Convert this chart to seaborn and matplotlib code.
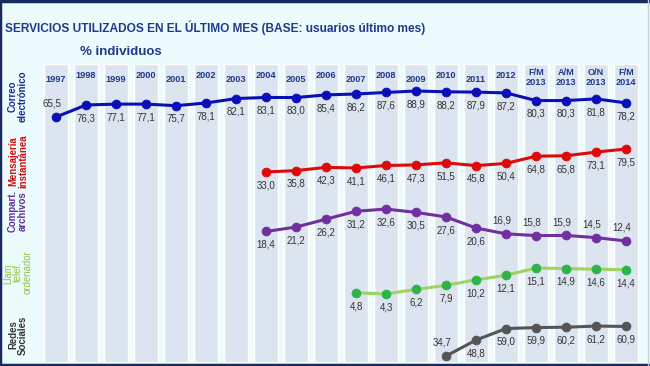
import matplotlib
matplotlib.use("Agg")
import matplotlib.pyplot as plt
import seaborn as sns
from matplotlib.lines import Line2D

# periods (column headers)
periods = ["1997", "1998", "1999", "2000", "2001", "2002", "2003", "2004",
           "2005", "2006", "2007", "2008", "2009", "2010", "2011", "2012",
           "F/M\n2013", "A/M\n2013", "O/N\n2013", "F/M\n2014"]

# % individuos per service, starting at the first period where it was asked
correo = [65.5, 76.3, 77.1, 77.1, 75.7, 78.1, 82.1, 83.1, 83.0, 85.4,
          86.2, 87.6, 88.9, 88.2, 87.9, 87.2, 80.3, 80.3, 81.8, 78.2]
mensajeria = [33.0, 35.8, 42.3, 41.1, 46.1, 47.3, 51.5, 45.8, 50.4,
              64.8, 65.8, 73.1, 79.5]
compartir = [18.4, 21.2, 26.2, 31.2, 32.6, 30.5, 27.6, 20.6, 16.9,
             15.8, 15.9, 14.5, 12.4]
llamadas = [4.8, 4.3, 6.2, 7.9, 10.2, 12.1, 15.1, 14.9, 14.6, 14.4]
redes = [34.7, 48.8, 59.0, 59.9, 60.2, 61.2, 60.9]

row_labels = ["Correo\nelectrónico", "Mensajería\ninstantánea",
              "Compart.\narchivos", "Llam.\ntelef.\nordenador",
              "Redes\nSociales"]
start_period = ["1997", "2004", "2004", "2007", "2010"]

BG = "#ecfbfc"
COLUMN = "#dce4ef"
NAVY = "#1f3a8c"

sns.set_style("white")
plt.rcParams["font.family"] = ["Liberation Sans", "DejaVu Sans"]

W, H = 650, 366
fig = plt.figure(figsize=(6.5, 3.66), dpi=100, facecolor=BG)


def px_axes(top, bottom):
    ax = fig.add_axes([41 / W, 1 - bottom / H, 600 / W, (bottom - top) / H])
    ax.set_xlim(-0.5, len(periods) - 0.5)
    ax.patch.set_alpha(0)
    ax.axis("off")
    return ax


# grey columns with the period headers
bg = px_axes(64, 362)
bg.bar(range(len(periods)), 1, width=0.8, color=COLUMN, zorder=0)
bg.set_ylim(0, 1)
for i, p in enumerate(periods):
    dy = 0.0 if "\n" in p else (0.006 if i % 2 else -0.006)
    bg.text(i, 0.955 + dy, p, ha="center", va="center", fontsize=6.6,
            fontweight="bold", color=NAVY, linespacing=1.05)

# one band per service:
# (values, line, marker, label colour, top px, bottom px, ylim, labels above, row label centre px)
bands = [
    (correo, "#0a10b8", "#0a10b8", "#1a2a9a", 88, 120, (62.8, 91.6), [0], 96),
    (mensajeria, "#dd0a0a", "#dd0a0a", "#d01010", 144, 176, (24.9, 89.5), [], 161),
    (compartir, "#7030a0", "#7030a0", "#6a2d9e", 204, 246, (9.2, 35.8), [8, 9, 10, 11, 12], 211),
    (llamadas, "#9fd35f", "#2db34a", "#8cc63f", 263, 299, (2.2, 17.2), [], 272),
    (redes, "#555555", "#555555", "#333333", 321, 361, (30.3, 65.7), [0], 335),
]

for (vals, lc, mc, tc, top, bot, ylim, above, lab_y), lab, first in zip(bands, row_labels, start_period):
    ax = px_axes(top, bot)
    ax.set_ylim(*ylim)
    i0 = periods.index(first)
    xs = list(range(i0, i0 + len(vals)))
    sns.lineplot(x=xs, y=vals, ax=ax, color=lc, linewidth=2.2, marker="o",
                 markersize=6.2, markerfacecolor=mc, markeredgecolor=mc,
                 clip_on=False, zorder=3)
    for k, (x, v) in enumerate(zip(xs, vals)):
        txt = f"{v:.1f}".replace(".", ",")
        if k in above:
            ax.annotate(txt, (x, v), xytext=(-3, 6), textcoords="offset points",
                        ha="center", va="bottom", fontsize=7, color="#333333")
        else:
            ax.annotate(txt, (x, v), xytext=(0, -6), textcoords="offset points",
                        ha="center", va="top", fontsize=7, color="#333333")
    fig.text(18 / W, 1 - lab_y / H, lab, rotation=90, ha="center",
             va="center", fontsize=6.9, color=tc, linespacing=1.0,
             fontweight="normal" if first == "2007" else "bold")

fig.text(5 / W, 1 - 28 / H,
         "SERVICIOS UTILIZADOS EN EL ÚLTIMO MES (BASE: usuarios último mes)",
         ha="left", va="center", fontsize=8.6, fontweight="bold", color=NAVY)
fig.text(121 / W, 1 - 52 / H, "% individuos", ha="center", va="center",
         fontsize=9.5, fontweight="bold", color=NAVY)

# frame: dark on top, left and bottom, faint on the right
fig.add_artist(Line2D([1, 0, 0, 1], [0.997, 0.997, 0.004, 0.004],
                      transform=fig.transFigure, color="#1b2a5c", linewidth=2.5))
fig.add_artist(Line2D([0.997, 0.997], [0, 1], transform=fig.transFigure,
                      color="#c8d0d8", linewidth=1))

fig.savefig("out.png", dpi=100, facecolor=BG)
